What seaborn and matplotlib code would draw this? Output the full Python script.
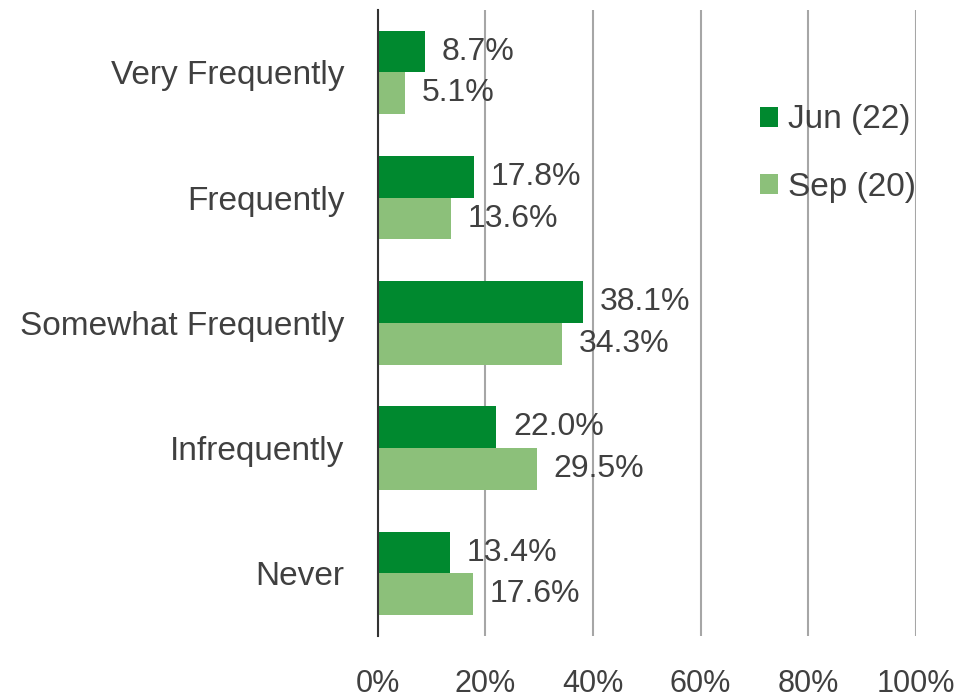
import pandas as pd
import matplotlib
matplotlib.use("Agg")
import matplotlib.pyplot as plt
import seaborn as sns

# categories and series values (percent)
categories = ["Very Frequently", "Frequently", "Somewhat Frequently", "Infrequently", "Never"]
jun_22 = [8.7, 17.8, 38.1, 22.0, 13.4]
sep_20 = [5.1, 13.6, 34.3, 29.5, 17.6]
series_names = ["Jun (22)", "Sep (20)"]
x_ticks = [0, 20, 40, 60, 80, 100]

df = pd.DataFrame({
    "category": categories * 2,
    "value": jun_22 + sep_20,
    "series": [series_names[0]] * len(categories) + [series_names[1]] * len(categories),
})

sns.set_style("white")
plt.rcParams["font.family"] = ["Liberation Sans", "DejaVu Sans"]
text_color = "#404040"

fig = plt.figure(figsize=(9.64, 7.0), dpi=100)
ax = fig.add_axes([0.392, 0.0914, 0.558, 0.8946])

sns.barplot(data=df, y="category", x="value", hue="series", hue_order=series_names,
            order=categories, orient="h", palette=["#00892F", "#8CC07A"],
            width=0.667, saturation=1, linewidth=0, ax=ax, legend=True)

for cont in ax.containers:
    ax.bar_label(cont, fmt="%.1f%%", padding=12, fontsize=23, color=text_color)

ax.set_xlim(0, 100)
ax.set_ylim(4.5, -0.5)
ax.set_xticks(x_ticks)
ax.set_xticklabels([f"{t}%" for t in x_ticks])
ax.xaxis.grid(True, color="#A6A6A6", linewidth=1.5)
ax.set_axisbelow(True)
for s in ["top", "right", "bottom"]:
    ax.spines[s].set_visible(False)
ax.spines["left"].set_color("#333333")
ax.spines["left"].set_linewidth(1.5)
ax.tick_params(axis="x", length=0, pad=24, labelsize=22, labelcolor=text_color)
ax.tick_params(axis="y", length=0, pad=24, labelsize=24, labelcolor=text_color)
ax.set_xlabel("")
ax.set_ylabel("")

ax.legend(loc="center left", bbox_to_anchor=(0.71, 0.77), frameon=False,
          fontsize=24, borderpad=0, borderaxespad=0, handlelength=0.55,
          handleheight=0.55, handletextpad=0.3, labelspacing=1.1,
          labelcolor=text_color)

fig.savefig("out.png", dpi=100)
